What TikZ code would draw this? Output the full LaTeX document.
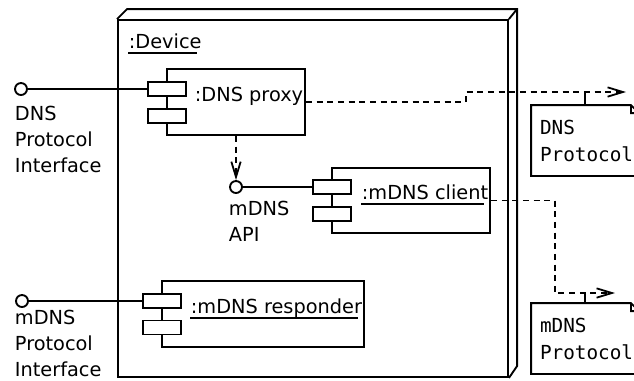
\documentclass[tikz,border=0pt]{standalone}
\usepackage{fontspec}
\setmainfont{DejaVu Sans}
\setmonofont{DejaVu Sans Mono}
\usetikzlibrary{arrows.meta}
\begin{document}
\begin{tikzpicture}[x=0.75pt,y=-0.75pt,line width=1.4pt,font=\fontsize{14.5pt}{19.5pt}\selectfont,
    comp/.style={rectangle,draw},
    port/.style={rectangle,draw,fill=white,minimum width=28.5pt,minimum height=10.5pt,inner sep=0pt},
    iface/.style={circle,draw,fill=white,minimum size=9pt,inner sep=0pt},
    cname/.style={anchor=base west,inner sep=0pt},
    caption/.style={anchor=base west,inner sep=0pt,align=left},
    note/.style={rectangle,minimum width=79.5pt,minimum height=51.75pt,text width=67.5pt,inner xsep=6pt,align=left,font=\ttfamily\fontsize{14.5pt}{20.25pt}\selectfont},
    dep/.style={dash pattern=on 4.5pt off 3.5pt,line width=1.35pt,-{Straight Barb[length=11.5pt,width=7pt]}}]
    \useasboundingbox (0,0) rectangle (634,380);
    \clip (0,0) rectangle (634,380);

    % the device
    \node[comp,minimum width=292.5pt,minimum height=267.75pt] at (313,198.5) (device) {};
    \draw (device.north west) -- ++(10,-10) -- ++(390,0) coordinate (backtop) -- ++(0,357) -- (device.south east)
          (device.north east) -- (backtop);
    \node[cname] at (128,48) (devname) {:Device};

    % components
    \node[comp,minimum width=103.5pt,minimum height=49.5pt] at (236,102) (proxy) {};
    \node[port] at (167,89) (pp1) {};
    \node[port] at (167,116) (pp2) {};
    \node[cname] at (194,101) (proxyname) {:DNS proxy};

    \node[comp,minimum width=118.5pt,minimum height=48.75pt] at (411,200.5) (client) {};
    \node[port] at (332,187) (cp1) {};
    \node[port] at (332,214) (cp2) {};
    \node[cname] at (361,199) (clientname) {:mDNS client};

    \node[comp,minimum width=151.5pt,minimum height=49.5pt] at (263,314) (responder) {};
    \node[port] at (162,301) (rp1) {};
    \node[port] at (162,327.5) (rp2) {};
    \node[cname] at (190,313) (respname) {:mDNS responder};

    \foreach \n in {devname,clientname,respname}
        \draw[line width=1pt] ([yshift=-3.75pt]\n.base west) -- ([yshift=-3.75pt,xshift=-4pt]\n.base east);

    % interfaces (captions sit on their last line)
    \node[iface] at (21,89) (dnsif) {};
    \node[iface] at (236,187) (apiif) {};
    \node[iface] at (22,301) (mdnsif) {};
    \node[caption] at (14,172) (dnsiflabel) {DNS\\Protocol\\Interface};
    \node[caption] at (228,241) (apilabel) {mDNS\\API};
    \node[caption] at (14,376) (mdnsiflabel) {mDNS\\Protocol\\Interface};

    % protocol notes
    \node[note] at (585,140.5) (dnsnote) {DNS\\Protocol};
    \node[note] at (585,338.5) (mdnsnote) {mDNS\\Protocol};
    \foreach \n in {dnsnote,mdnsnote}
        \draw (\n.north west) -- ([xshift=-6pt]\n.north east) -- ([yshift=-6pt]\n.north east) -- (\n.south east) -- (\n.south west) -- cycle
              ([xshift=-6pt]\n.north east) |- ([yshift=-6pt]\n.north east);
    \coordinate (dnstip) at (626,92);
    \coordinate (mdnstip) at (615,293);

    \path (dnsif) edge (pp1)
          (apiif) edge (cp1)
          (mdnsif) edge (rp1)
          (proxy) edge[dep] (apiif);
    \draw[dep] (proxy.east) -- ++(160,0) |- (dnstip);
    \draw[dep] (client.east) -- ++(64,0) |- (mdnstip);
    \draw (dnsnote.north) -- (dnsnote.north |- dnstip);
    \draw (mdnsnote.north) -- (mdnsnote.north |- mdnstip);
\end{tikzpicture}
\end{document}
